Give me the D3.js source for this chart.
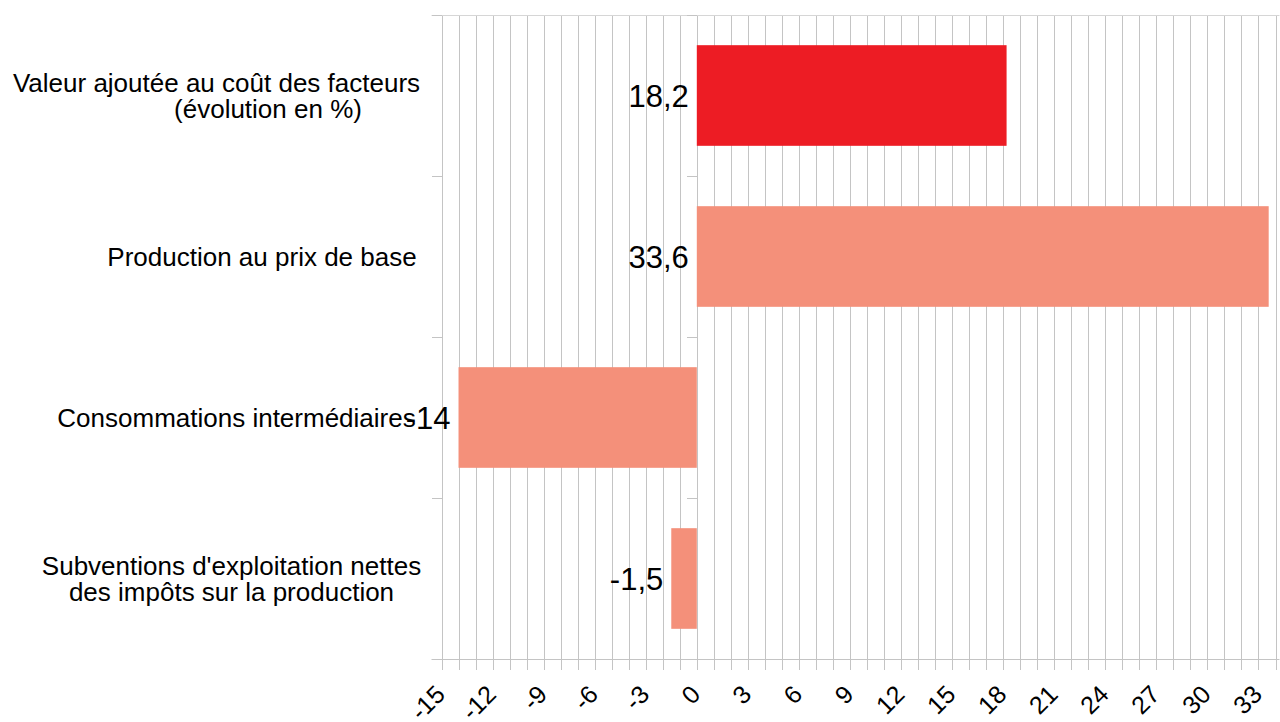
<!DOCTYPE html>
<html><head><meta charset="utf-8">
<script src="https://cdn.jsdelivr.net/npm/d3@7/dist/d3.min.js"></script>
<style>
html,body{margin:0;padding:0;background:#fff;}
svg{display:block;font-family:"Liberation Sans",Arial,sans-serif;}
</style></head>
<body><svg id="chart" width="1280" height="722"></svg>
<script>
const categories = [
  ["Valeur ajoutée au coût des facteurs", "(évolution en %)"],
  ["Production au prix de base "],
  ["Consommations intermédiaires"],
  ["Subventions d'exploitation nettes", "des impôts sur la production"]
];
const values = [18.2, 33.6, -14, -1.5];
const barColors = ["#ED1C24", "#F4907A", "#F4907A", "#F4907A"];
const xTicks = [-15, -12, -9, -6, -3, 0, 3, 6, 9, 12, 15, 18, 21, 24, 27, 30, 33];
const xDomain = [-15, 34];

(function () {
const svg = d3.select("#chart");
const pLeft = 441.5, pRight = 1275.5, pTop = 15, pBottom = 659;
const x = d3.scaleLinear().domain(xDomain).range([pLeft, pRight]);
const idx = d3.range(categories.length);
const yBand = d3.scaleBand().domain(idx).range([pTop, pBottom]).paddingInner(0).paddingOuter(0);
const yBar = d3.scaleBand().domain(idx).range([pTop, pBottom]).paddingInner(0.375).paddingOuter(0.1875);
const grid = "#c4c4c4";

// vertical gridlines every unit
const minor = d3.range(xDomain[0], xDomain[1] + 1);
svg.append("g").selectAll("line").data(minor).join("line")
  .attr("x1", d => Math.round(x(d)) + 0.5).attr("x2", d => Math.round(x(d)) + 0.5)
  .attr("y1", pTop).attr("y2", pBottom + 11)
  .attr("stroke", grid).attr("stroke-width", 1);

// top line
svg.append("line").attr("x1", pLeft - 10).attr("x2", pRight + 4).attr("y1", pTop + 0.5).attr("y2", pTop + 0.5)
  .attr("stroke", "#d6d6d6");
// bottom axis line
svg.append("line").attr("x1", pLeft - 10).attr("x2", pRight + 4).attr("y1", pBottom + 0.5).attr("y2", pBottom + 0.5)
  .attr("stroke", grid);

// category ticks at left edge and at 0
const bounds = d3.range(categories.length + 1).map(i => pTop + i * yBand.step());
[pLeft, x(0)].forEach(px => {
  svg.append("g").selectAll("line").data(bounds).join("line")
    .attr("x1", Math.round(px) - 10).attr("x2", Math.round(px))
    .attr("y1", d => Math.round(d) + 0.5).attr("y2", d => Math.round(d) + 0.5)
    .attr("stroke", grid);
});

// bars
svg.append("g").selectAll("rect").data(values).join("rect")
  .attr("x", d => x(Math.min(0, d)))
  .attr("width", d => Math.abs(x(d) - x(0)))
  .attr("y", (d, i) => yBar(i))
  .attr("height", yBar.bandwidth())
  .attr("fill", (d, i) => barColors[i]);

// x tick labels
svg.append("g").selectAll("text").data(xTicks).join("text")
  .attr("transform", d => `translate(${x(d) + 5},${pBottom + 37}) rotate(-45)`)
  .attr("text-anchor", "end")
  .attr("font-size", 25)
  .attr("fill", "#000")
  .text(d => String(d));

// category labels
const lineH = 26;
categories.forEach((lines, i) => {
  const cy = yBand(i) + yBand.bandwidth() / 2;
  const n = lines.length;
  const t = svg.append("text").attr("font-size", 26).attr("fill", "#000").attr("text-anchor", "middle");
  lines.forEach((ln, j) => {
    const base = cy + 9 - (n - 1) * lineH / 2 + j * lineH;
    let cx = 231.5;
    if (n === 1) cx = 262;
    if (i === 0) cx = j === 0 ? 216.5 : 268;
    if (i === 2) cx = 236.5;
    t.append("tspan").attr("x", cx).attr("y", base).text(ln);
  });
});

// value labels
svg.append("g").selectAll("text").data(values).join("text")
  .attr("x", d => x(Math.min(0, d)) - 8)
  .attr("y", (d, i) => yBand(i) + yBand.bandwidth() / 2 + 11)
  .attr("text-anchor", "end")
  .attr("font-size", 31)
  .attr("fill", "#000")
  .text(d => String(d).replace(".", ","));
})();
</script></body></html>
